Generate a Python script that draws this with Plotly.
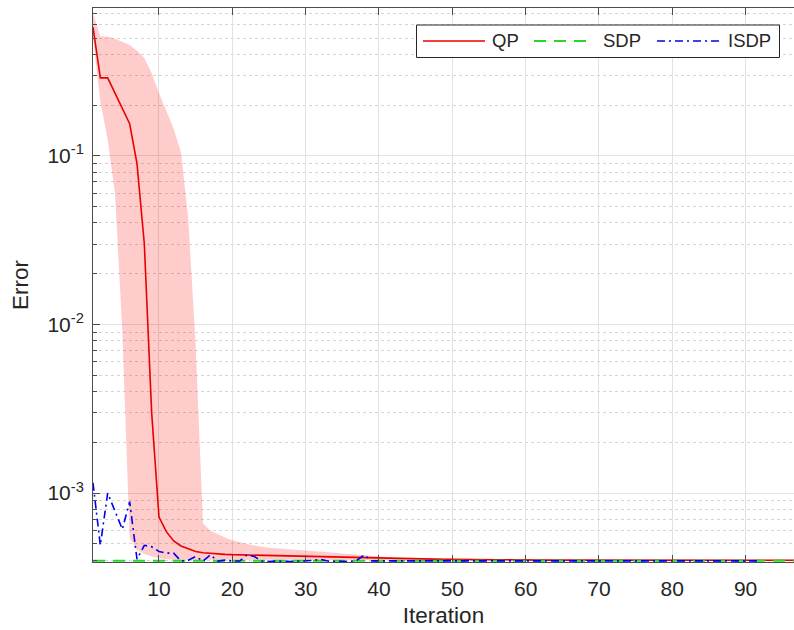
import plotly.graph_objects as go

# ---------------------------------------------------------------- data
iters_qp = list(range(1, 98))
iters_isdp = list(range(1, 93))

# QP: mean error per iteration
qp_mean = [
    0.58, 0.29, 0.29, 0.235, 0.195, 0.155, 0.09, 0.03, 0.003, 7.2e-4,
    5.9e-4, 5.2e-4, 4.85e-4, 4.65e-4, 4.5e-4, 4.42e-4, 4.38e-4, 4.35e-4, 4.33e-4, 4.31e-4,
    4.30e-4, 4.29e-4, 4.28e-4, 4.27e-4, 4.26e-4, 4.25e-4, 4.24e-4, 4.22e-4, 4.20e-4, 4.19e-4,
    4.18e-4, 4.17e-4, 4.16e-4, 4.15e-4, 4.14e-4, 4.13e-4, 4.12e-4, 4.11e-4, 4.10e-4, 4.09e-4,
    4.08e-4, 4.08e-4, 4.07e-4, 4.07e-4, 4.06e-4, 4.06e-4, 4.05e-4, 4.05e-4, 4.04e-4, 4.04e-4,
    4.03e-4, 4.03e-4, 4.03e-4, 4.02e-4, 4.02e-4, 4.02e-4, 4.02e-4, 4.01e-4, 4.01e-4, 4.01e-4,
    4.01e-4, 4.01e-4, 4.00e-4, 4.00e-4, 4.00e-4, 4.00e-4, 4.00e-4, 4.00e-4, 4.00e-4, 4.00e-4,
    4.00e-4, 4.00e-4, 4.00e-4, 4.00e-4, 4.00e-4, 3.99e-4, 3.99e-4, 3.99e-4, 3.99e-4, 3.99e-4,
    3.99e-4, 3.99e-4, 3.99e-4, 3.99e-4, 3.99e-4, 3.99e-4, 3.99e-4, 3.99e-4, 3.99e-4, 3.99e-4,
    3.99e-4, 3.99e-4, 3.99e-4, 3.99e-4, 3.99e-4, 3.99e-4, 3.99e-4,
]

# QP: upper envelope of the spread
qp_upper = [
    0.70, 0.51, 0.51, 0.495, 0.475, 0.455, 0.42, 0.38, 0.31, 0.235,
    0.185, 0.145, 0.105, 0.042, 0.0075, 6.6e-4, 6.0e-4, 5.7e-4, 5.45e-4, 5.25e-4,
    5.10e-4, 4.98e-4, 4.88e-4, 4.80e-4, 4.74e-4, 4.70e-4, 4.67e-4, 4.64e-4, 4.61e-4, 4.58e-4,
    4.54e-4, 4.50e-4, 4.46e-4, 4.42e-4, 4.38e-4, 4.34e-4, 4.30e-4, 4.26e-4, 4.22e-4, 4.18e-4,
    4.16e-4, 4.14e-4, 4.13e-4, 4.12e-4, 4.11e-4, 4.10e-4, 4.09e-4, 4.08e-4, 4.07e-4, 4.06e-4,
    4.06e-4, 4.05e-4, 4.05e-4, 4.05e-4, 4.04e-4, 4.04e-4, 4.04e-4, 4.04e-4, 4.03e-4, 4.03e-4,
    4.03e-4, 4.03e-4, 4.03e-4, 4.03e-4, 4.03e-4, 4.03e-4, 4.03e-4, 4.03e-4, 4.03e-4, 4.03e-4,
    4.02e-4, 4.02e-4, 4.02e-4, 4.02e-4, 4.02e-4, 4.02e-4, 4.02e-4, 4.02e-4, 4.02e-4, 4.02e-4,
    4.02e-4, 4.02e-4, 4.02e-4, 4.02e-4, 4.02e-4, 4.02e-4, 4.02e-4, 4.02e-4, 4.02e-4, 4.02e-4,
    4.02e-4, 4.02e-4, 4.02e-4, 4.02e-4, 4.02e-4, 4.02e-4, 4.02e-4,
]

# QP: lower envelope of the spread
qp_lower = [
    0.50, 0.21, 0.125, 0.06, 0.009, 5.4e-4, 4.6e-4, 4.35e-4, 4.2e-4, 4.1e-4,
    4.05e-4, 4.02e-4, 4.00e-4, 4.00e-4, 4.00e-4, 4.00e-4, 4.00e-4, 4.00e-4, 4.00e-4, 4.00e-4,
    3.99e-4, 3.99e-4, 3.99e-4, 3.99e-4, 3.99e-4, 3.99e-4, 3.99e-4, 3.99e-4, 3.99e-4, 3.99e-4,
    3.98e-4, 3.98e-4, 3.98e-4, 3.98e-4, 3.98e-4, 3.98e-4, 3.98e-4, 3.98e-4, 3.98e-4, 3.98e-4,
    3.98e-4, 3.98e-4, 3.98e-4, 3.98e-4, 3.98e-4, 3.98e-4, 3.98e-4, 3.98e-4, 3.98e-4, 3.98e-4,
    3.98e-4, 3.98e-4, 3.98e-4, 3.98e-4, 3.98e-4, 3.98e-4, 3.98e-4, 3.98e-4, 3.98e-4, 3.98e-4,
    3.98e-4, 3.98e-4, 3.98e-4, 3.98e-4, 3.98e-4, 3.98e-4, 3.98e-4, 3.98e-4, 3.98e-4, 3.98e-4,
    3.98e-4, 3.98e-4, 3.98e-4, 3.98e-4, 3.98e-4, 3.98e-4, 3.98e-4, 3.98e-4, 3.98e-4, 3.98e-4,
    3.98e-4, 3.98e-4, 3.98e-4, 3.98e-4, 3.98e-4, 3.98e-4, 3.98e-4, 3.98e-4, 3.98e-4, 3.98e-4,
    3.98e-4, 3.98e-4, 3.98e-4, 3.98e-4, 3.98e-4, 3.98e-4, 3.98e-4,
]

# SDP: converges immediately
sdp = [3.97e-4] * len(iters_qp)

# ISDP error per iteration
isdp = [
    1.15e-3, 4.9e-4, 1.0e-3, 7.8e-4, 6.1e-4, 8.9e-4, 4.05e-4, 4.9e-4, 4.8e-4, 4.5e-4,
    4.4e-4, 4.4e-4, 3.95e-4, 4.0e-4, 4.2e-4, 3.95e-4, 4.3e-4, 3.95e-4, 4.0e-4, 3.95e-4,
    3.95e-4, 4.3e-4, 4.2e-4, 3.95e-4, 3.92e-4, 3.95e-4, 3.92e-4, 3.93e-4, 3.95e-4, 3.96e-4,
    3.98e-4, 4.05e-4, 3.95e-4, 3.94e-4, 3.92e-4, 3.92e-4, 4.0e-4, 4.3e-4, 3.96e-4, 3.96e-4,
    3.97e-4, 3.96e-4, 3.95e-4, 3.96e-4, 3.97e-4, 3.96e-4, 3.96e-4, 3.95e-4, 3.96e-4, 3.97e-4,
    3.96e-4, 3.96e-4, 3.95e-4, 3.96e-4, 3.96e-4, 3.97e-4, 3.96e-4, 3.95e-4, 3.96e-4, 3.96e-4,
    3.97e-4, 3.96e-4, 3.96e-4, 3.95e-4, 3.96e-4, 3.96e-4, 3.97e-4, 3.96e-4, 3.95e-4, 3.96e-4,
    3.96e-4, 3.97e-4, 3.96e-4, 3.96e-4, 3.95e-4, 3.96e-4, 3.96e-4, 3.97e-4, 3.96e-4, 3.95e-4,
    3.96e-4, 3.96e-4, 3.97e-4, 3.96e-4, 3.96e-4, 3.95e-4, 3.96e-4, 3.96e-4, 3.97e-4, 3.96e-4,
    3.96e-4, 3.96e-4,
]

series_names = ["QP", "SDP", "ISDP"]
x_ticks = [10, 20, 30, 40, 50, 60, 70, 80, 90]
y_ticks = [1e-3, 1e-2, 1e-1]
y_ticktext = ["10<sup>-3</sup>", "10<sup>-2</sup>", "10<sup>-1</sup>"]
y_minor = [m * d for d in (1e-4, 1e-3, 1e-2, 1e-1) for m in range(2, 10)]

# ---------------------------------------------------------------- styles
FONT = "Liberation Sans, Arial, Helvetica, sans-serif"
TXT = "#262626"
AXIS = "#4d4d4d"
W, H = 794, 630
M_L, M_R, M_T, M_B = 93, 0, 8, 68
PLOT_W = W - M_L - M_R
PLOT_H = H - M_T - M_B

line_styles = {
    "QP": dict(color="rgb(235,0,0)", width=1.6, dash="solid"),
    "SDP": dict(color="rgb(40,215,40)", width=2, dash="12px,8px"),
    "ISDP": dict(color="rgb(0,0,240)", width=1.6, dash="8px,4px,2px,4px"),
}


def px_x(p):
    """Pixel column -> paper x."""
    return (p - M_L) / PLOT_W


def px_y(p):
    """Pixel row -> paper y."""
    return (H - M_B - p) / PLOT_H


fig = go.Figure()

# shaded spread of QP runs
fig.add_trace(go.Scatter(
    x=iters_qp + iters_qp[::-1],
    y=qp_upper + qp_lower[::-1],
    fill="toself", fillcolor="rgba(255,0,0,0.2)",
    line=dict(width=0), mode="lines",
    hoverinfo="skip", showlegend=False,
))

for name, xs, ys in (("QP", iters_qp, qp_mean),
                     ("SDP", iters_qp, sdp),
                     ("ISDP", iters_isdp, isdp)):
    fig.add_trace(go.Scatter(
        x=xs, y=ys, name=name, mode="lines",
        line=line_styles[name], showlegend=False,
    ))

# legend box drawn with long line samples
shapes = [dict(
    type="rect", xref="paper", yref="paper", layer="above",
    x0=px_x(416.5), x1=px_x(779.5), y0=px_y(57.5), y1=px_y(25),
    line=dict(color=TXT, width=1), fillcolor="white",
)]
annotations = []
leg_y = px_y(41)
sample_spans = {"QP": (423, 485, 490), "SDP": (534, 594, 601), "ISDP": (657, 722, 726)}
for name in series_names:
    x0, x1, xt = sample_spans[name]
    st = line_styles[name]
    shapes.append(dict(
        type="line", xref="paper", yref="paper", layer="above",
        x0=px_x(x0), x1=px_x(x1), y0=leg_y, y1=leg_y,
        line=dict(color=st["color"], width=st["width"], dash=st["dash"]),
    ))
    annotations.append(dict(
        text=name, xref="paper", yref="paper", x=px_x(xt), y=leg_y,
        xanchor="left", yanchor="middle", showarrow=False,
        font=dict(size=18.5, color=TXT, family=FONT),
    ))

fig.update_layout(
    width=W, height=H,
    margin=dict(l=M_L, r=M_R, t=M_T, b=M_B),
    paper_bgcolor="white", plot_bgcolor="white",
    font=dict(family=FONT, color=TXT, size=21),
    showlegend=False,
    shapes=shapes, annotations=annotations,
)

fig.update_xaxes(
    range=[1, 96.6],
    tickmode="array", tickvals=x_ticks,
    showgrid=True, gridcolor="#e2e2e2", gridwidth=1,
    zeroline=False,
    showline=True, linecolor=AXIS, linewidth=1, mirror="ticks",
    ticks="inside", ticklen=7, tickcolor=AXIS,
    ticklabelstandoff=8,
    title=dict(text="Iteration", font=dict(size=22.5, color=TXT), standoff=8),
)

fig.update_yaxes(
    type="log",
    range=[-3.409, -0.123],
    tickmode="array", tickvals=y_ticks, ticktext=y_ticktext,
    showgrid=True, gridcolor="#e2e2e2", gridwidth=1,
    zeroline=False,
    showline=True, linecolor=AXIS, linewidth=1,
    ticks="inside", ticklen=7, tickcolor=AXIS,
    ticklabelstandoff=4,
    minor=dict(
        tickmode="array", tickvals=y_minor,
        ticks="inside", ticklen=4, tickcolor=AXIS,
        showgrid=True, gridcolor="#d5d5d5", griddash="dot", gridwidth=1,
    ),
    title=dict(text="Error", font=dict(size=22.5, color=TXT), standoff=12),
)

fig.write_html("out.html")
